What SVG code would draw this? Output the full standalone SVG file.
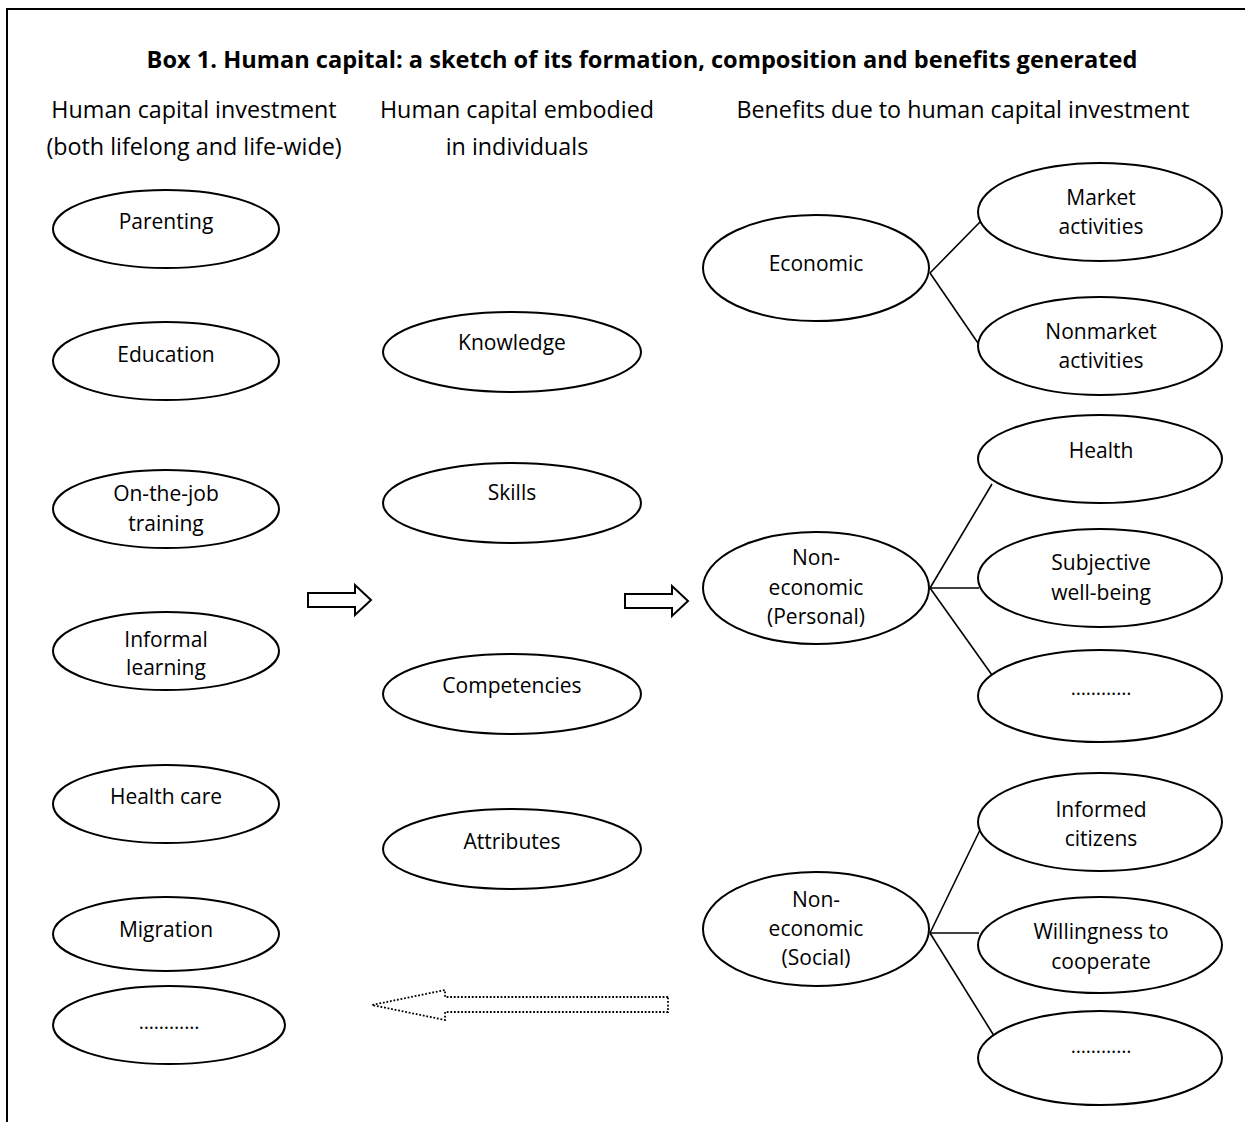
<svg xmlns="http://www.w3.org/2000/svg" width="1245" height="1122" viewBox="0 0 1245 1122">
<style>
.n ellipse{fill:#fff;stroke:#000;stroke-width:2}
text{font-family:"Open Sans","Liberation Sans",sans-serif;fill:#000;text-anchor:middle}
.lbl{font-size:21px}
.dots{font-size:19.5px}
.hdr{font-size:23.3px}
.ttl{font-size:23.6px;font-weight:bold}
.c line{stroke:#000;stroke-width:1.6}
.arr{fill:#fff;stroke:#000;stroke-width:2;stroke-linejoin:miter}
.dot{fill:none;stroke:#000;stroke-width:1.8;stroke-dasharray:1.8 1.8}
</style>
<rect width="1245" height="1122" fill="#fff"/>
<rect x="7" y="9" width="1260" height="1140" fill="none" stroke="#000" stroke-width="2"/>
<text class="ttl" x="642" y="68">Box 1. Human capital: a sketch of its formation, composition and benefits generated</text>
<text class="hdr" x="194" y="118">Human capital investment</text>
<text class="hdr" x="194" y="155">(both lifelong and life-wide)</text>
<text class="hdr" x="517" y="118">Human capital embodied</text>
<text class="hdr" x="517" y="155">in individuals</text>
<text class="hdr" x="963" y="118">Benefits due to human capital investment</text>

<g class="c">
<line x1="930" y1="273" x2="980" y2="222"/>
<line x1="930" y1="273" x2="980" y2="346"/>
<line x1="930" y1="588" x2="992" y2="484"/>
<line x1="930" y1="588" x2="979" y2="588"/>
<line x1="930" y1="588" x2="992" y2="675"/>
<line x1="930" y1="933" x2="980" y2="830"/>
<line x1="930" y1="933" x2="979" y2="933"/>
<line x1="930" y1="933" x2="1001" y2="1047"/>
<path class="arr" d="M308,593 L355,593 L355,585 L371,600 L355,615 L355,607 L308,607 Z"/>
<path class="arr" d="M625,594 L672,594 L672,586 L688,601 L672,616 L672,608 L625,608 Z"/>
<path class="dot" d="M668,997 L445,997 L445,990 L372,1005 L445,1020 L445,1012 L668,1012 Z"/>
</g>

<g class="n" id="parenting"><ellipse cx="166" cy="229" rx="113" ry="39"/><text class="lbl" x="166" y="229">Parenting</text></g>
<g class="n" id="education"><ellipse cx="166" cy="361" rx="113" ry="39"/><text class="lbl" x="166" y="362">Education</text></g>
<g class="n" id="onthejob"><ellipse cx="166" cy="509" rx="113" ry="39"/><text class="lbl" x="166" y="501">On-the-job</text><text class="lbl" x="166" y="531">training</text></g>
<g class="n" id="informal"><ellipse cx="166" cy="651" rx="113" ry="39"/><text class="lbl" x="166" y="647">Informal</text><text class="lbl" x="166" y="675">learning</text></g>
<g class="n" id="healthcare"><ellipse cx="166" cy="804" rx="113" ry="39"/><text class="lbl" x="166" y="804">Health care</text></g>
<g class="n" id="migration"><ellipse cx="166" cy="934" rx="113" ry="37"/><text class="lbl" x="166" y="937">Migration</text></g>
<g class="n" id="more1"><ellipse cx="169" cy="1025" rx="116" ry="39"/><text class="lbl dots" x="169" y="1029">…………</text></g>

<g class="n" id="knowledge"><ellipse cx="512" cy="352" rx="129" ry="40"/><text class="lbl" x="512" y="350">Knowledge</text></g>
<g class="n" id="skills"><ellipse cx="512" cy="503" rx="129" ry="40"/><text class="lbl" x="512" y="500">Skills</text></g>
<g class="n" id="competencies"><ellipse cx="512" cy="694" rx="129" ry="40"/><text class="lbl" x="512" y="693">Competencies</text></g>
<g class="n" id="attributes"><ellipse cx="512" cy="849" rx="129" ry="40"/><text class="lbl" x="512" y="849">Attributes</text></g>

<g class="n" id="economic"><ellipse cx="816" cy="268" rx="113" ry="53"/><text class="lbl" x="816" y="271">Economic</text></g>
<g class="n" id="personal"><ellipse cx="816" cy="588" rx="113" ry="56"/><text class="lbl" x="816" y="565">Non-</text><text class="lbl" x="816" y="595">economic</text><text class="lbl" x="816" y="624">(Personal)</text></g>
<g class="n" id="social"><ellipse cx="816" cy="929" rx="113" ry="57"/><text class="lbl" x="816" y="907">Non-</text><text class="lbl" x="816" y="936">economic</text><text class="lbl" x="816" y="965">(Social)</text></g>

<g class="n" id="market"><ellipse cx="1100" cy="212" rx="122" ry="49"/><text class="lbl" x="1101" y="205">Market</text><text class="lbl" x="1101" y="234">activities</text></g>
<g class="n" id="nonmarket"><ellipse cx="1100" cy="346" rx="122" ry="49"/><text class="lbl" x="1101" y="339">Nonmarket</text><text class="lbl" x="1101" y="368">activities</text></g>
<g class="n" id="health"><ellipse cx="1100" cy="459" rx="122" ry="44"/><text class="lbl" x="1101" y="458">Health</text></g>
<g class="n" id="wellbeing"><ellipse cx="1100" cy="578" rx="122" ry="49"/><text class="lbl" x="1101" y="570">Subjective</text><text class="lbl" x="1101" y="600">well-being</text></g>
<g class="n" id="more2"><ellipse cx="1100" cy="696" rx="122" ry="46"/><text class="lbl dots" x="1101" y="695">…………</text></g>
<g class="n" id="informed"><ellipse cx="1100" cy="822" rx="122" ry="49"/><text class="lbl" x="1101" y="817">Informed</text><text class="lbl" x="1101" y="846">citizens</text></g>
<g class="n" id="willingness"><ellipse cx="1100" cy="945" rx="122" ry="48"/><text class="lbl" x="1101" y="939">Willingness to</text><text class="lbl" x="1101" y="969">cooperate</text></g>
<g class="n" id="more3"><ellipse cx="1100" cy="1058" rx="122" ry="47"/><text class="lbl dots" x="1101" y="1053">…………</text></g>
</svg>
